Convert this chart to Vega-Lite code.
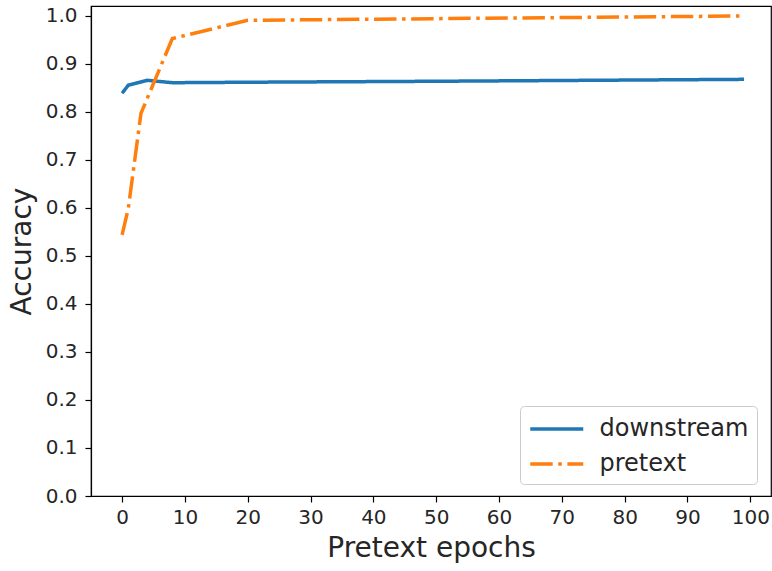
{
  "$schema": "https://vega.github.io/schema/vega-lite/v6.json",
  "width": 680,
  "height": 490,
  "autosize": {"type": "none"},
  "padding": {"left": 91, "top": 6, "right": 1, "bottom": 75},
  "background": "white",
  "config": {
    "view": {"stroke": "black", "strokeWidth": 1.2},
    "font": "DejaVu Sans",
    "axis": {
      "labelFont": "DejaVu Sans",
      "labelFontSize": 20,
      "labelColor": "#262626",
      "titleFont": "DejaVu Sans",
      "titleFontSize": 28,
      "titleFontWeight": "normal",
      "titleColor": "#262626",
      "domainColor": "black",
      "domainWidth": 1.2,
      "tickColor": "black",
      "tickWidth": 1.2,
      "tickSize": 6,
      "grid": false
    },
    "legend": {
      "labelFont": "DejaVu Sans",
      "labelFontSize": 24,
      "labelColor": "#262626"
    }
  },
  "data": {
    "values": [
      {"series": "downstream", "epoch": 0, "acc": 0.839},
      {"series": "downstream", "epoch": 1, "acc": 0.856},
      {"series": "downstream", "epoch": 4, "acc": 0.866},
      {"series": "downstream", "epoch": 8, "acc": 0.861},
      {"series": "downstream", "epoch": 20, "acc": 0.862},
      {"series": "downstream", "epoch": 50, "acc": 0.864},
      {"series": "downstream", "epoch": 99, "acc": 0.868},
      {"series": "pretext", "epoch": 0, "acc": 0.544},
      {"series": "pretext", "epoch": 1, "acc": 0.6},
      {"series": "pretext", "epoch": 3, "acc": 0.797},
      {"series": "pretext", "epoch": 8, "acc": 0.953},
      {"series": "pretext", "epoch": 20, "acc": 0.991},
      {"series": "pretext", "epoch": 99, "acc": 1.0}
    ]
  },
  "mark": {"type": "line", "strokeWidth": 3.5, "clip": true},
  "encoding": {
    "x": {
      "field": "epoch",
      "type": "quantitative",
      "scale": {"domain": [-4.95, 103.3], "nice": false, "zero": false},
      "axis": {
        "title": "Pretext epochs",
        "values": [0, 10, 20, 30, 40, 50, 60, 70, 80, 90, 100],
        "labelPadding": 5,
        "titlePadding": 7
      }
    },
    "y": {
      "field": "acc",
      "type": "quantitative",
      "scale": {"domain": [0, 1.0208], "nice": false},
      "axis": {
        "title": "Accuracy",
        "values": [0, 0.1, 0.2, 0.3, 0.4, 0.5, 0.6, 0.7, 0.8, 0.9, 1.0],
        "format": ".1f",
        "labelPadding": 8,
        "titlePadding": 9
      }
    },
    "color": {
      "field": "series",
      "type": "nominal",
      "scale": {"domain": ["downstream", "pretext"], "range": ["#1f77b4", "#ff7f0e"]},
      "legend": {
        "title": null,
        "orient": "none",
        "legendX": 429,
        "legendY": 400,
        "padding": 8,
        "fillColor": "white",
        "strokeColor": "#cccccc",
        "cornerRadius": 4,
        "symbolType": "M-0.96,0H3.04",
        "symbolSize": 702,
        "symbolStrokeWidth": 3.5,
        "labelOffset": 41.5,
        "rowPadding": 8
      }
    },
    "strokeDash": {
      "field": "series",
      "type": "nominal",
      "scale": {"domain": ["downstream", "pretext"], "range": [[1, 0], [22.4, 5.6, 3.5, 5.6]]},
      "legend": {
        "title": null,
        "orient": "none",
        "legendX": 429,
        "legendY": 400,
        "padding": 8,
        "fillColor": "white",
        "strokeColor": "#cccccc",
        "cornerRadius": 4,
        "symbolType": "M-0.96,0H3.04",
        "symbolSize": 702,
        "symbolStrokeWidth": 3.5,
        "labelOffset": 41.5,
        "rowPadding": 8
      }
    }
  }
}
